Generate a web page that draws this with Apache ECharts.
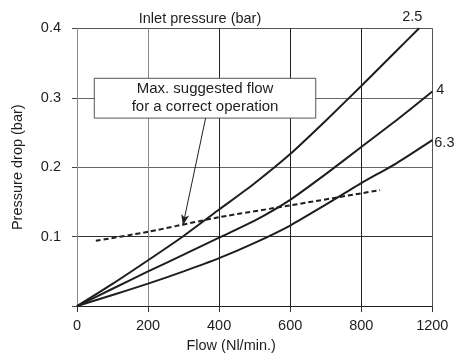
<!DOCTYPE html>
<html>
<head>
<meta charset="utf-8">
<script src="https://cdn.jsdelivr.net/npm/echarts@6/dist/echarts.min.js"></script>
<style>html,body{margin:0;padding:0;background:#fff}#c{width:458px;height:358px}</style>
</head>
<body>
<div id="c"></div>
<script>
// x values are axis positions; the last tick of the original is printed "1200"
const xTickValues = [0, 200, 400, 600, 800, 1000];
const xTickLabels = ['0', '200', '400', '600', '800', '1200'];
const yTickValues = [0, 0.1, 0.2, 0.3, 0.4];
const yTickLabels = ['', '0.1', '0.2', '0.3', '0.4'];

const seriesNames = ['2.5', '4', '6.3'];
const flow = [0, 100, 200, 300, 400, 500, 600, 700, 800, 900];
const drop25 = [0, 0.032, 0.066, 0.101, 0.139, 0.177, 0.219, 0.267, 0.317, 0.368];
const end25 = [963, 0.4];
const flow4 = [0, 100, 200, 300, 400, 500, 600, 700, 800, 900, 1000];
const drop4 = [0, 0.025, 0.050, 0.074, 0.0985, 0.123, 0.153, 0.190, 0.229, 0.268, 0.309];
const drop63 = [0, 0.016, 0.0323, 0.050, 0.069, 0.091, 0.116, 0.146, 0.177, 0.206, 0.239];

const maxFlowX = [53, 200, 400, 600, 853];
const maxFlowY = [0.094, 0.107, 0.128, 0.145, 0.167];

const noteText = ['Max. suggested flow', 'for a correct operation'];
const noteBox = [[48.7, 0.328], [672, 0.2707]];
const noteArrow = [[362, 0.2707], [298, 0.116]];

const titleText = 'Inlet pressure (bar)';
const xName = 'Flow (Nl/min.)';
const yName = 'Pressure drop (bar)';

const d25 = flow.map((x, i) => [x, drop25[i]]).concat([end25]);
const d4 = flow4.map((x, i) => [x, drop4[i]]);
const d63 = flow4.map((x, i) => [x, drop63[i]]);
const dMax = maxFlowX.map((x, i) => [x, maxFlowY[i]]);

const font = 'Liberation Sans, Arial, sans-serif';
const ink = '#1e1e1e';

const chart = echarts.init(document.getElementById('c'), null, {renderer: 'canvas'});

function curve(name, data, offset) {
  return {
    type: 'line', name: name, data: data, smooth: 0.2, symbol: 'none',
    lineStyle: {color: ink, width: 2},
    endLabel: {show: true, formatter: name, color: ink, fontSize: 14.5, fontFamily: font, distance: 4, offset: offset},
    z: 3
  };
}

chart.setOption({
  animation: false,
  backgroundColor: '#fff',
  title: {
    text: titleText, left: 195, top: 6, textAlign: 'center',
    textStyle: {fontSize: 14.5, fontWeight: 'normal', color: ink, fontFamily: font}
  },
  grid: {left: 77, right: 25.7, top: 28.3, bottom: 45.7, containLabel: false},
  xAxis: {
    type: 'value', min: 0, max: 1000, interval: 200,
    name: xName, nameLocation: 'middle', nameGap: 27,
    nameTextStyle: {fontSize: 14.5, color: ink, fontFamily: font, padding: [0, 47, 0, 0]},
    axisLine: {show: true, lineStyle: {color: '#222', width: 1}},
    axisTick: {show: true, length: 6, lineStyle: {color: '#333'}},
    axisLabel: {
      fontSize: 14.5, color: ink, fontFamily: font, margin: 12,
      formatter: v => { const i = xTickValues.indexOf(Math.round(v)); return i >= 0 ? xTickLabels[i] : ''; }
    },
    splitLine: {show: true, lineStyle: {color: ['#888', '#888', '#222', '#222', '#222', '#555'], width: 1}}
  },
  yAxis: {
    type: 'value', min: 0, max: 0.4, interval: 0.1,
    name: yName, nameLocation: 'middle', nameGap: 52,
    nameTextStyle: {fontSize: 14.5, color: ink, fontFamily: font},
    axisLine: {show: true, lineStyle: {color: '#888', width: 1}},
    axisTick: {show: true, length: 5, lineStyle: {color: '#444'}},
    axisLabel: {
      fontSize: 14.5, color: ink, fontFamily: font, margin: 16,
      formatter: v => { const i = yTickValues.findIndex(t => Math.abs(t - v) < 1e-6); return i >= 0 ? yTickLabels[i] : ''; }
    },
    splitLine: {show: true, lineStyle: {color: ['#222', '#333', '#666', '#666', '#555'], width: 1}}
  },
  series: [
    curve(seriesNames[0], d25, [-21, -11]),
    curve(seriesNames[1], d4, [0, -1]),
    curve(seriesNames[2], d63, [-2, 3]),
    {
      type: 'line', name: 'max', data: dMax, smooth: 0.2, symbol: 'none',
      lineStyle: {color: ink, width: 2, type: [5, 3]},
      z: 3,
      markArea: {
        silent: true,
        itemStyle: {color: '#fff', borderColor: '#555', borderWidth: 1},
        label: {
          show: true, position: 'inside', formatter: noteText.join('\n'),
          fontSize: 15, lineHeight: 18, color: ink, fontFamily: font, align: 'center'
        },
        data: [[{coord: noteBox[0]}, {coord: noteBox[1]}]]
      },
      markLine: {
        silent: true, symbol: ['none', 'arrow'], symbolSize: [6, 11],
        lineStyle: {color: '#222', width: 1, type: 'solid'},
        label: {show: false},
        data: [[{coord: noteArrow[0]}, {coord: noteArrow[1]}]]
      }
    }
  ]
});
</script>
</body>
</html>
